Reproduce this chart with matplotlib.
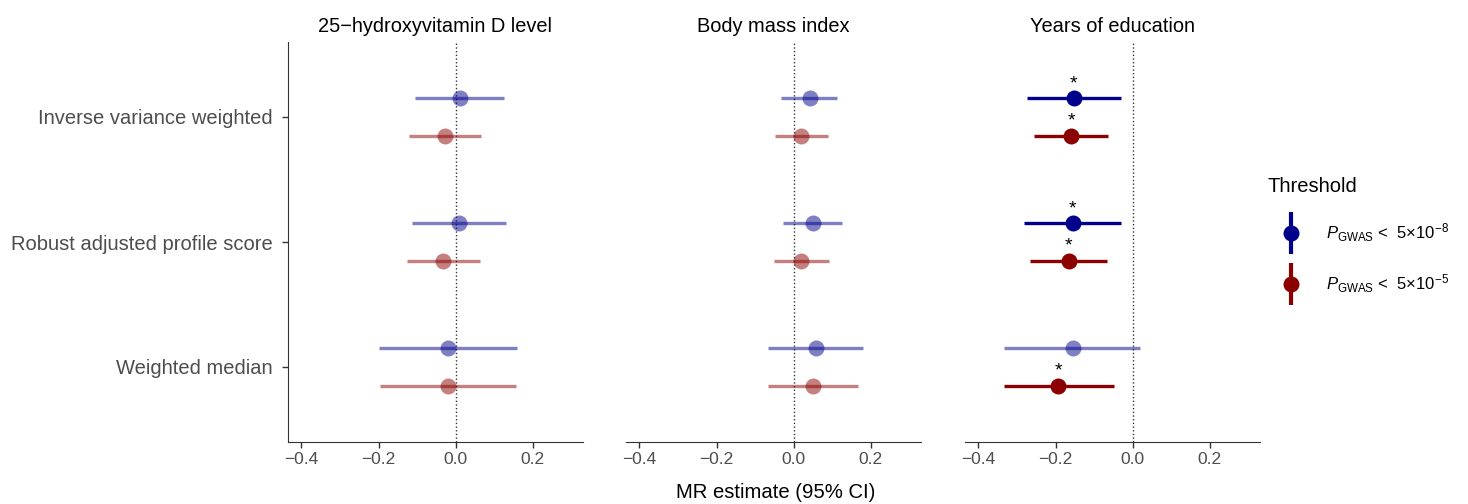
import numpy as np
import matplotlib
matplotlib.use("Agg")
import matplotlib.pyplot as plt
from matplotlib.lines import Line2D
from matplotlib.legend_handler import HandlerTuple

plt.rcParams['font.family'] = ['Liberation Sans', 'DejaVu Sans']
plt.rcParams['mathtext.fontset'] = 'custom'
plt.rcParams['mathtext.rm'] = 'Liberation Sans'
plt.rcParams['mathtext.it'] = 'Liberation Sans:italic'

exposures = ["25\u2212hydroxyvitamin D level", "Body mass index", "Years of education"]
methods = ["Inverse variance weighted", "Robust adjusted profile score", "Weighted median"]
thresholds = ["5e-8", "5e-5"]

# estimates [exposure][method] for each threshold
est_5e8 = [[0.011, 0.009, -0.019],
           [0.041, 0.049, 0.058],
           [-0.153, -0.156, -0.156]]
lo_5e8 = [[-0.106, -0.113, -0.198],
          [-0.033, -0.027, -0.066],
          [-0.275, -0.283, -0.335]]
hi_5e8 = [[0.124, 0.130, 0.159],
          [0.112, 0.125, 0.180],
          [-0.030, -0.030, 0.020]]

est_5e5 = [[-0.028, -0.032, -0.019],
           [0.019, 0.020, 0.050],
           [-0.160, -0.166, -0.193]]
lo_5e5 = [[-0.120, -0.127, -0.197],
          [-0.049, -0.052, -0.066],
          [-0.256, -0.267, -0.335]]
hi_5e5 = [[0.065, 0.063, 0.157],
          [0.088, 0.092, 0.166],
          [-0.065, -0.067, -0.048]]

colors = {"5e-8": "#00008B", "5e-5": "#8B0000"}
offsets = {"5e-8": 0.15, "5e-5": -0.15}
data = {"5e-8": (est_5e8, lo_5e8, hi_5e8), "5e-5": (est_5e5, lo_5e5, hi_5e5)}

fig = plt.figure(figsize=(14.68, 5.04), dpi=100)
lefts = [288, 626, 965]
width = 295
bottom = 1 - 442 / 504
height = (442 - 42) / 504
ypos = np.array([3, 2, 1])

grey = "#4d4d4d"
for i, name in enumerate(exposures):
    ax = fig.add_axes([lefts[i] / 1468, bottom, width / 1468, height])
    ax.axvline(0, color="#333333", ls=":", lw=1.0, zorder=1)
    for th in thresholds:
        est, lo, hi = data[th]
        for j in range(3):
            y = ypos[j] + offsets[th]
            sig = hi[i][j] < 0 or lo[i][j] > 0
            a = 1.0 if sig else 0.5
            ax.plot([lo[i][j], hi[i][j]], [y, y], color=colors[th], lw=2.4, alpha=a,
                    solid_capstyle='butt', zorder=2)
            ax.plot(est[i][j], y, 'o', color=colors[th], ms=11.5, mew=0, alpha=a, zorder=3)
            if sig:
                ax.annotate("*", (est[i][j], y), xytext=(0, 4.5), textcoords="offset points",
                            ha="center", va="bottom", fontsize=14, color="black")
    ax.set_xlim(-0.435, 0.33)
    ax.set_ylim(0.4, 3.6)
    ax.set_xticks([-0.4, -0.2, 0.0, 0.2])
    ax.set_xticklabels(["\u22120.4", "\u22120.2", "0.0", "0.2"])
    ax.tick_params(axis='x', colors="#333333", labelcolor=grey, labelsize=12.5,
                   length=4, width=1.0, pad=3)
    ax.set_title(name, fontsize=14.4, color="black", pad=7)
    for s in ["top", "right"]:
        ax.spines[s].set_visible(False)
    ax.spines["bottom"].set_color("#333333")
    if i == 0:
        ax.spines["left"].set_color("#333333")
        ax.set_yticks(ypos)
        ax.set_yticklabels(methods)
        ax.tick_params(axis='y', colors="#333333", labelcolor=grey, labelsize=14.5,
                       length=4, width=1.0, pad=7)
    else:
        ax.spines["left"].set_visible(False)
        ax.set_yticks([])

fig.text(776 / 1468, 1 - 493 / 504, "MR estimate (95% CI)", ha="center", va="center",
         fontsize=14.6, color="black")

handles = []
for th in thresholds:
    vline = Line2D([], [], marker='|', ms=30, mew=3, color=colors[th], ls='none')
    dot = Line2D([], [], marker='o', ms=11.5, mew=0, color=colors[th], ls='none')
    handles.append((vline, dot))
labels = [r"$P_{\mathrm{GWAS}}$ <  5×10$^{-8}$", r"$P_{\mathrm{GWAS}}$ <  5×10$^{-5}$"]
leg = fig.legend(handles, labels, handler_map={tuple: HandlerTuple(ndivide=1)},
                 loc="upper left", bbox_to_anchor=(1256 / 1468, 1 - 165 / 504),
                 title="Threshold", title_fontsize=14.5, fontsize=12, frameon=False,
                 handlelength=2.8, handletextpad=0.7, labelspacing=1.7, borderpad=0.2)
leg._legend_box.align = "left"
leg._legend_box.sep = 18.5

fig.savefig("out.png", dpi=100)
